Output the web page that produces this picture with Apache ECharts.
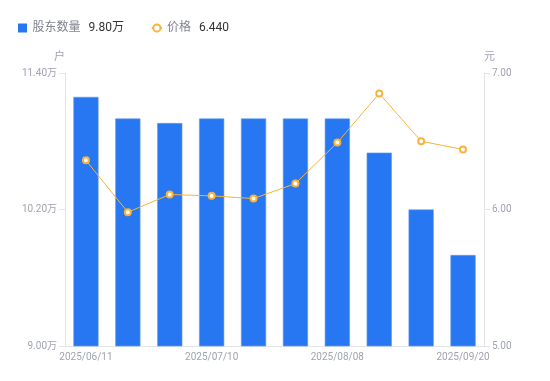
<!DOCTYPE html>
<html><head><meta charset="utf-8">
<script src="https://cdn.jsdelivr.net/npm/echarts@6/dist/echarts.min.js"></script>
<style>html,body{margin:0;padding:0;background:#fff}#c{width:550px;height:381px}</style>
</head><body><div id="c"></div>
<script>
const categories = ['2025/06/11','2025/06/20','2025/06/30','2025/07/10','2025/07/20','2025/07/31','2025/08/08','2025/08/20','2025/08/31','2025/09/20'];
const holders = [11.19, 11.00, 10.96, 11.00, 11.00, 11.00, 11.00, 10.70, 10.20, 9.80];
const prices = [6.36, 5.98, 6.11, 6.10, 6.08, 6.19, 6.49, 6.85, 6.50, 6.44];
const holderTicks = [9.00, 11.40];
const priceTicks = [5.00, 7.00];

const chart = echarts.init(document.getElementById('c'));
const labelColor = '#a0a3b1';
const font = 'Roboto, "Noto Sans", "Noto Sans CJK SC", sans-serif';
chart.setOption({
  animation: false,
  textStyle: { fontFamily: font },
  legend: {
    left: 13, top: 17, itemGap: 27, itemWidth: 10, itemHeight: 9,
    textStyle: { fontFamily: font, fontSize: 12,
      rich: { a: { color: '#80838f', fontSize: 12, fontFamily: font }, b: { color: '#333', fontSize: 12, fontFamily: font, padding: [0,0,0,8] } } },
    formatter: function (n) {
      if (n === '股东数量') return '{a|股东数量}{b|' + holders[holders.length-1].toFixed(2) + '万}';
      return '{a|价格}{b|' + prices[prices.length-1].toFixed(3) + '}';
    },
    data: [{ name: '股东数量', icon: 'path://M0,0H10V10H0Z', itemStyle: { color: '#2777f2', borderWidth: 0 } }, { name: '价格' }]
  },
  grid: { left: 65, right: 66, top: 73, bottom: 35 },
  xAxis: {
    type: 'category', data: categories,
    axisLine: { lineStyle: { color: '#e3e4e8' } },
    axisTick: { show: false },
    axisLabel: { color: labelColor, fontSize: 10, interval: 2, margin: 6, fontFamily: font }
  },
  yAxis: [{
    type: 'value', min: holderTicks[0], max: holderTicks[1], interval: (holderTicks[1]-holderTicks[0])/2,
    name: '户', nameGap: 10, nameTextStyle: { color: labelColor, fontSize: 11, align: 'right' },
    axisLine: { show: true, lineStyle: { color: '#e3e4e8' } },
    axisTick: { show: true, length: 6, lineStyle: { color: '#e3e4e8' } },
    splitLine: { show: false },
    axisLabel: { color: labelColor, fontSize: 10, margin: 8, formatter: v => v.toFixed(2) + '万' }
  }, {
    type: 'value', min: priceTicks[0], max: priceTicks[1], interval: (priceTicks[1]-priceTicks[0])/2,
    name: '元', nameGap: 10, nameTextStyle: { color: labelColor, fontSize: 11, align: 'left' },
    axisLine: { show: true, lineStyle: { color: '#e3e4e8' } },
    axisTick: { show: true, length: 6, lineStyle: { color: '#e3e4e8' } },
    splitLine: { show: false },
    axisLabel: { color: labelColor, fontSize: 10, margin: 8, formatter: v => v.toFixed(2) }
  }],
  series: [{
    name: '股东数量', type: 'bar', data: holders, barWidth: '60%',
    itemStyle: { color: '#2777f2', borderColor: '#5c9af5', borderWidth: 0.6 }
  }, {
    name: '价格', type: 'line', yAxisIndex: 1, data: prices,
    symbol: 'emptyCircle', symbolSize: 6,
    lineStyle: { color: '#f8b33c', width: 1 },
    itemStyle: { color: '#f8b33c', borderWidth: 2 }
  }]
});
</script></body></html>
